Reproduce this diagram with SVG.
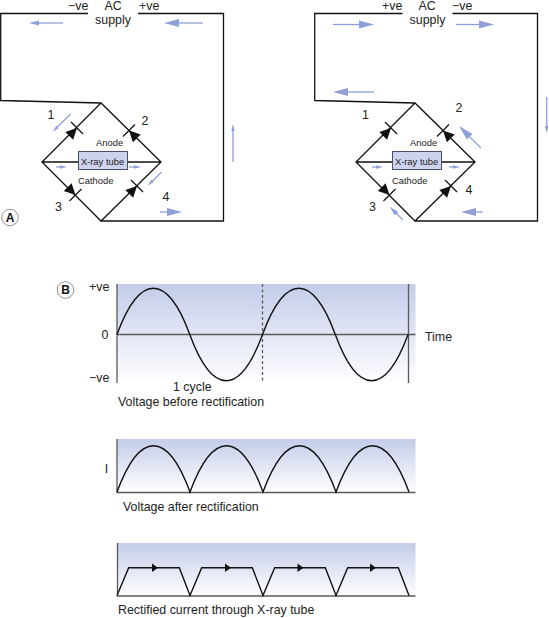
<svg xmlns="http://www.w3.org/2000/svg" xmlns:xlink="http://www.w3.org/1999/xlink" width="549" height="618" viewBox="0 0 549 618">
<style>
text{font-family:"Liberation Sans",Arial,sans-serif;fill:#222}
.l{font-size:12.4px}
.s{font-size:9.4px}
.c{text-anchor:middle}
.w{fill:none;stroke:#111;stroke-width:1.3}
.t{fill:#cdd3ee;stroke:#4a5068;stroke-width:1}
.a{fill:none;stroke:#8f9fd8;stroke-width:1.3}
.as{marker-end:url(#hs)}
.am{marker-end:url(#hm)}
.al{marker-end:url(#hl)}
.ax{fill:none;stroke:#5a5a5a;stroke-width:1.3}
.cv{fill:none;stroke:#111;stroke-width:1.4}
.bd{fill:#fff;stroke:#777;stroke-width:.8}
.bt{font-size:12px;font-weight:bold;text-anchor:middle;fill:#111}
</style>
<defs>
<marker id="hs" markerUnits="userSpaceOnUse" markerWidth="8" markerHeight="6" refX="1" refY="3" orient="auto"><path d="M0 1.300L7 3L0 4.700Z" fill="#8f9fd8"/></marker>
<marker id="hm" markerUnits="userSpaceOnUse" markerWidth="12" markerHeight="8" refX="1" refY="4" orient="auto"><path d="M0 1.500L10 4L0 6.500Z" fill="#8f9fd8"/></marker>
<marker id="hl" markerUnits="userSpaceOnUse" markerWidth="18" markerHeight="12" refX="1" refY="6" orient="auto"><path d="M0 2L15 6L0 10Z" fill="#8f9fd8"/></marker>
<g id="diode"><path d="M0 0L-11 -5.500L-11 5.500Z" fill="#111"/><path d="M0 -8.500V8.500" stroke="#111" stroke-width="1.200"/></g>
<linearGradient id="g" x1="0" y1="0" x2="0" y2="1"><stop offset="0" stop-color="#c3cce9"/><stop offset="1" stop-color="#fff"/></linearGradient>
</defs>

<g id="connectors">
<path class="w" d="M88 13.500H0.700V100.500L101 103L161 162L101 221L42 162L101 103M101 221H223.500V13.500H138M42 162H78.500M127.500 162H161"/>
<path class="w" d="M402.500 13.500H314.700V100.500L415 103L475 162L415 221L356 162L415 103M415 221H537.500V13.500H452.500M356 162H392.500M441.500 162H475"/>
</g>

<g id="arrows-a">
<path class="a am" d="M63 23H38"/><path class="a al" d="M203 23H178"/>
<path class="a as" d="M233 162V130"/><path class="a as" d="M70.500 114L57 127.500"/>
<path class="a as" d="M56 167H61"/><path class="a as" d="M129 167H135"/>
<path class="a as" d="M161.500 172L152 181.500"/><path class="a al" d="M160 212H168"/>
</g>
<g id="arrows-b">
<path class="a al" d="M333 24.500H360"/><path class="a al" d="M456 24.500H480"/>
<path class="a al" d="M374 92H347"/><path class="a as" d="M546.700 97V127"/>
<path class="a al" d="M481 148L469 136"/><path class="a am" d="M403 220L396 213"/>
<path class="a as" d="M372 167H377"/><path class="a as" d="M449 167H454"/>
<path class="a al" d="M483 212H475"/>
</g>

<g id="circuit-a">
<use xlink:href="#diode" transform="translate(77 128) rotate(-45)"/>
<use xlink:href="#diode" transform="translate(129 130.500) rotate(-135)"/>
<use xlink:href="#diode" transform="translate(75.500 195) rotate(45)"/>
<use xlink:href="#diode" transform="translate(137 186) rotate(-45)"/>
<g id="tube-a"><rect class="t" x="78.500" y="151.500" width="49" height="18"/><text class="s c" x="102.500" y="164.500">X-ray tube</text></g>
<text class="s" x="96" y="146">Anode</text><text class="s" x="78" y="184">Cathode</text>
<text class="l" x="68" y="10">−ve</text><text class="l c" x="113" y="10">AC</text><text class="l c" x="113" y="24">supply</text><text class="l" x="139" y="10">+ve</text>
<text class="l c" x="51" y="119">1</text><text class="l c" x="145" y="125">2</text><text class="l c" x="58.500" y="211">3</text><text class="l c" x="166" y="201">4</text>
</g>

<g id="circuit-b">
<use xlink:href="#diode" transform="translate(391 128) rotate(-45)"/>
<use xlink:href="#diode" transform="translate(443 130.500) rotate(-135)"/>
<use xlink:href="#diode" transform="translate(389.500 195) rotate(45)"/>
<use xlink:href="#diode" transform="translate(451 186) rotate(-45)"/>
<g id="tube-b"><rect class="t" x="392.500" y="151.500" width="49" height="18"/><text class="s c" x="416.500" y="164.500">X-ray tube</text></g>
<text class="s" x="410" y="146">Anode</text><text class="s" x="392" y="184">Cathode</text>
<text class="l" x="382" y="10">+ve</text><text class="l c" x="427" y="10">AC</text><text class="l c" x="427.500" y="24">supply</text><text class="l" x="452" y="10">−ve</text>
<text class="l c" x="365.500" y="119">1</text><text class="l c" x="459" y="112">2</text><text class="l c" x="372.500" y="211">3</text><text class="l c" x="469" y="194">4</text>
</g>

<g id="badge-a"><circle class="bd" cx="10" cy="217.500" r="8.300"/><text class="bt" x="10" y="221.800">A</text></g>
<g id="badge-b"><circle class="bd" cx="65.500" cy="290" r="8.300"/><text class="bt" x="65.500" y="294.300">B</text></g>

<g id="chart-voltage">
<rect x="117" y="284" width="298.500" height="99" fill="url(#g)"/>
<path class="ax" d="M117 284V383M408.500 284V383M117 334.500H415.500"/>
<path class="ax" d="M262.500 284V383" stroke-dasharray="3 2.500" stroke="#666"/>
<path class="cv" d="M117 334.500c10.200 -27.700 21.800 -46.200 36.380 -46.200c14.600 0 26.200 18.500 36.380 46.200c10.200 27.700 21.800 46.200 36.380 46.200c14.600 0 26.200 -18.500 36.380 -46.200c10.200 -27.700 21.800 -46.200 36.380 -46.200c14.600 0 26.200 18.500 36.380 46.200c10.200 27.700 21.800 46.200 36.380 46.200c14.600 0 26.200 -18.500 36.380 -46.200"/>
<text class="l" x="89" y="291">+ve</text><text class="l c" x="105" y="339">0</text><text class="l" x="89" y="382">−ve</text>
<text class="l" x="425" y="341">Time</text><text class="l" x="173" y="391">1 cycle</text>
<text class="l" x="118" y="406">Voltage before rectification</text>
</g>

<g id="chart-after">
<rect x="117" y="439" width="298.500" height="53" fill="url(#g)"/>
<path class="ax" d="M117 439V492.500H415.500"/>
<path class="cv" d="M117 492c10.200 -27.800 21.900 -46.300 36.500 -46.300c14.600 0 26.300 18.500 36.500 46.300c10.200 -27.800 21.900 -46.300 36.500 -46.300c14.600 0 26.300 18.500 36.500 46.300c10.200 -27.800 21.900 -46.300 36.500 -46.300c14.600 0 26.300 18.500 36.500 46.300c10.200 -27.800 21.900 -46.300 36.500 -46.300c14.600 0 26.300 18.500 36.500 46.300"/>
<text class="l c" x="106.500" y="473">I</text>
<text class="l" x="123" y="511">Voltage after rectification</text>
</g>

<g id="chart-current">
<rect x="117" y="543" width="298.500" height="53" fill="url(#g)"/>
<path class="ax" d="M117.500 543V596H415.500" stroke-width="1"/>
<path class="cv" d="M117 595.500L128.700 567.700H179.300L190 595.500L201.700 567.700H252.300L263 595.500L274.700 567.700H325.300L336 595.500L347.700 567.700H398.300L409 595.500"/>
<path d="M152 563.500L158 567.700L152 572Z M225 563.500L231 567.700L225 572Z M297.500 563.500L303.500 567.700L297.500 572Z M370 563.500L376 567.700L370 572Z" fill="#111"/>
<text class="l" x="118" y="614">Rectified current through X-ray tube</text>
</g>
</svg>
